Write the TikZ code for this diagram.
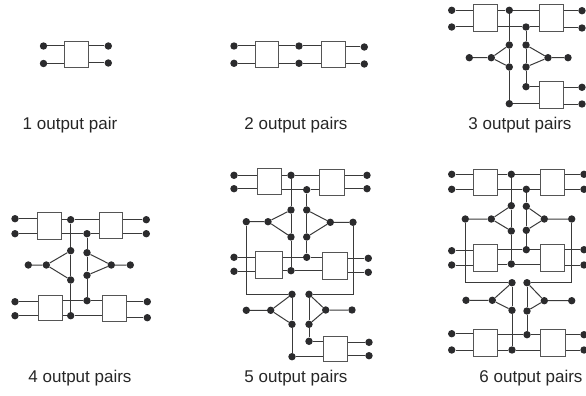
\documentclass[tikz,border=0pt]{standalone}
\usepackage{fontspec}
\setmainfont{Liberation Sans}
\definecolor{ink}{HTML}{2B2B2D}
\definecolor{wire}{HTML}{3A3A3A}
\definecolor{edge}{HTML}{555555}
\tikzset{
  dotn/.style={circle,fill=ink,draw=none,inner sep=0pt,minimum size=7.4pt},
  boxn/.style={rectangle,draw=edge,fill=white,line width=1pt,inner sep=0pt,anchor=north west},
  lab/.style={font=\fontsize{17}{19}\selectfont,text=black!85,inner sep=0pt},
  wr/.style={draw=wire,line width=1pt,line join=miter}
}
\newcommand{\D}[3]{\node[dotn] (#1) at (#2,#3) {};}
\newcommand{\BX}[5]{\node[boxn,minimum width=#4pt,minimum height=#5pt] (#1) at (#2,#3) {};}
\newcommand{\LK}[2]{\draw[wr] (#1) -- (#1 -| #2.west);}
\newcommand{\RK}[2]{\draw[wr] (#1) -- (#1 -| #2.east);}
\newcommand{\WW}[1]{\draw[wr] #1;}
\begin{document}
\begin{tikzpicture}[x=1pt,y=-1pt]
\useasboundingbox (0,0) rectangle (586,396);
% panel 1
\BX{a1}{64.3}{40.7}{23.7}{26.3}
\D{a2}{43.5}{46}\D{a3}{43.5}{63.5}\D{a4}{108.3}{46}\D{a5}{108.3}{63}
\LK{a2}{a1}\LK{a3}{a1}\RK{a4}{a1}\RK{a5}{a1}
% panel 2
\BX{b1}{254.7}{40.7}{23.5}{26.3}\BX{b2}{320.7}{40.7}{23.8}{26.3}
\D{b3}{234}{46}\D{b4}{234}{63.3}\D{b5}{299}{46}\D{b6}{299}{63.3}\D{b7}{364.3}{47}\D{b8}{364.3}{64}
\LK{b3}{b1}\LK{b4}{b1}\RK{b5}{b1}\RK{b6}{b1}\LK{b5}{b2}\LK{b6}{b2}\RK{b7}{b2}\RK{b8}{b2}
% panel 3
\BX{c1}{472.7}{4.3}{24}{27}\BX{c2}{538.7}{4.3}{24}{27}\BX{c3}{538.7}{81}{24}{26.7}
\D{c4}{451.7}{10.3}\D{c5}{451.7}{27}\D{c6}{509.3}{10.3}\D{c7}{526}{27}\D{c8}{582}{10.7}\D{c9}{582}{28}
\D{c10}{469.3}{57.7}\D{c11}{491.3}{57.7}\D{c12}{509.3}{45}\D{c13}{509.3}{67}
\D{c14}{526}{45}\D{c15}{526}{67}\D{c16}{548}{57.7}\D{c17}{568}{57.7}
\D{c18}{526}{86.7}\D{c19}{509.3}{103.7}\D{c20}{582}{87.3}\D{c21}{582}{104}
\LK{c4}{c1}\LK{c5}{c1}\RK{c6}{c1}\RK{c7}{c1}\LK{c6}{c2}\LK{c7}{c2}\RK{c8}{c2}\RK{c9}{c2}
\LK{c18}{c3}\LK{c19}{c3}\RK{c20}{c3}\RK{c21}{c3}
\WW{(c6)--(c12)--(c13)--(c19)}\WW{(c7)--(c14)--(c15)--(c18)}
\WW{(c10)--(c11)--(c12)}\WW{(c11)--(c13)}\WW{(c14)--(c16)--(c17)}\WW{(c15)--(c16)}
% panel 4
\BX{d1}{36.7}{212.3}{24}{26.4}\BX{d2}{99.3}{212.3}{22.7}{25.7}\BX{d3}{37.7}{295.3}{24}{24.4}\BX{d4}{102}{295.3}{23.7}{25.4}
\D{d5}{15}{218.7}\D{d6}{15}{233.7}\D{d7}{70.7}{219.7}\D{d8}{87}{233.7}\D{d9}{146.3}{219.7}\D{d10}{146.3}{233.7}
\D{d11}{28.3}{265}\D{d12}{46.3}{265}\D{d13}{70.7}{250.7}\D{d14}{70.7}{280}
\D{d15}{87}{252.7}\D{d16}{87}{275.3}\D{d17}{111.3}{265}\D{d18}{130.3}{265}
\D{d19}{15}{301.7}\D{d20}{15}{315.7}\D{d21}{87}{300.7}\D{d22}{70.7}{315.7}\D{d23}{147.3}{301.7}\D{d24}{147.3}{317.7}
\LK{d5}{d1}\LK{d6}{d1}\RK{d7}{d1}\RK{d8}{d1}\LK{d7}{d2}\LK{d8}{d2}\RK{d9}{d2}\RK{d10}{d2}
\LK{d19}{d3}\LK{d20}{d3}\RK{d21}{d3}\RK{d22}{d3}\LK{d21}{d4}\LK{d22}{d4}\RK{d23}{d4}\RK{d24}{d4}
\WW{(d7)--(d13)--(d14)--(d22)}\WW{(d8)--(d15)--(d16)--(d21)}
\WW{(d11)--(d12)--(d13)}\WW{(d12)--(d14)}\WW{(d15)--(d17)--(d18)}\WW{(d16)--(d17)}
% panel 5
\BX{e1}{256.7}{167.7}{24}{26.6}\BX{e2}{318.7}{168.7}{25}{26.3}\BX{e3}{254.7}{251.3}{27.6}{27}\BX{e4}{321.7}{252.3}{25}{27}\BX{e5}{322.7}{335.7}{24}{25.6}
\D{e6}{234}{175.3}\D{e7}{234}{188.7}\D{e8}{291}{175.3}\D{e9}{306.7}{189.7}\D{e10}{367}{175.3}\D{e11}{367}{188.7}
\D{e12}{246.3}{221.7}\D{e13}{268}{221.7}\D{e14}{291}{210}\D{e15}{291}{237}
\D{e16}{306.7}{210}\D{e17}{306.7}{237}\D{e18}{330.3}{222.3}\D{e19}{353}{222.3}
\D{e20}{234}{257.3}\D{e21}{234}{271.3}\D{e22}{306.7}{257.3}\D{e23}{291}{270.7}\D{e24}{368.3}{258.3}\D{e25}{368.3}{272.3}
\D{e26}{292}{294.3}\D{e27}{309}{294.3}
\D{e28}{246.3}{310.3}\D{e29}{270.7}{310.3}\D{e30}{292}{324.3}\D{e31}{309}{324.3}\D{e32}{325.7}{310}\D{e33}{352}{310}
\D{e34}{309}{341.3}\D{e35}{292}{356.7}\D{e36}{369}{342.3}\D{e37}{369}{355.7}
\LK{e6}{e1}\LK{e7}{e1}\RK{e8}{e1}\RK{e9}{e1}\LK{e8}{e2}\LK{e9}{e2}\RK{e10}{e2}\RK{e11}{e2}
\LK{e20}{e3}\LK{e21}{e3}\RK{e22}{e3}\RK{e23}{e3}\LK{e22}{e4}\LK{e23}{e4}\RK{e24}{e4}\RK{e25}{e4}
\LK{e34}{e5}\LK{e35}{e5}\RK{e36}{e5}\RK{e37}{e5}
\WW{(e8)--(e14)--(e15)--(e23)}\WW{(e9)--(e16)--(e17)--(e22)}
\WW{(e12)--(e13)--(e14)}\WW{(e13)--(e15)}\WW{(e16)--(e18)--(e19)}\WW{(e17)--(e18)}
\WW{(e12)--(e12|-e26)--(e26)}\WW{(e19)--(e19|-e27)--(e27)}
\WW{(e28)--(e29)--(e26)}\WW{(e29)--(e30)}\WW{(e26)--(e30)--(e35)}
\WW{(e27)--(e32)--(e33)}\WW{(e31)--(e32)}\WW{(e27)--(e31)--(e34)}
% panel 6
\BX{f1}{473.3}{168.7}{24}{26.6}\BX{f2}{539.7}{168.7}{24}{26.6}\BX{f3}{473.3}{244}{24}{26.7}\BX{f4}{539.7}{244}{24}{26.7}\BX{f5}{473.3}{329}{24}{26.7}\BX{f6}{540.3}{329}{24.4}{26.7}
\D{f7}{451.7}{174.3}\D{f8}{451.7}{189.3}\D{f9}{511.3}{174.3}\D{f10}{526.3}{189.3}\D{f11}{584}{174.3}\D{f12}{584}{189.3}
\D{f13}{465.3}{219}\D{f14}{491.3}{219}\D{f15}{511.3}{205.7}\D{f16}{511.3}{231}
\D{f17}{526.3}{206.3}\D{f18}{526.3}{230.3}\D{f19}{544.3}{219}\D{f20}{571.7}{219}
\D{f21}{451.7}{250.7}\D{f22}{451.7}{265}\D{f23}{526.3}{249.7}\D{f24}{511.3}{264}\D{f25}{584}{249.7}\D{f26}{584}{265}
\D{f27}{512}{282.7}\D{f28}{527}{282.7}
\D{f29}{466}{300.3}\D{f30}{492.3}{300.3}\D{f31}{512}{310.3}\D{f32}{527}{311}\D{f33}{544.3}{300.7}\D{f34}{571.7}{300.7}
\D{f35}{451.7}{333.7}\D{f36}{451.7}{350}\D{f37}{527}{334.7}\D{f38}{512}{350}\D{f39}{584}{334.7}\D{f40}{584}{350}
\LK{f7}{f1}\LK{f8}{f1}\RK{f9}{f1}\RK{f10}{f1}\LK{f9}{f2}\LK{f10}{f2}\RK{f11}{f2}\RK{f12}{f2}
\LK{f21}{f3}\LK{f22}{f3}\RK{f23}{f3}\RK{f24}{f3}\LK{f23}{f4}\LK{f24}{f4}\RK{f25}{f4}\RK{f26}{f4}
\LK{f35}{f5}\LK{f36}{f5}\RK{f37}{f5}\RK{f38}{f5}\LK{f37}{f6}\LK{f38}{f6}\RK{f39}{f6}\RK{f40}{f6}
\WW{(f9)--(f15)--(f16)--(f24)}\WW{(f10)--(f17)--(f18)--(f23)}
\WW{(f13)--(f14)--(f15)}\WW{(f14)--(f16)}\WW{(f17)--(f19)--(f20)}\WW{(f18)--(f19)}
\WW{(f13)--(f13|-f27)--(f27)}\WW{(f20)--(f20|-f28)--(f28)}
\WW{(f29)--(f30)--(f27)}\WW{(f30)--(f31)}\WW{(f27)--(f31)--(f38)}
\WW{(f28)--(f33)--(f34)}\WW{(f32)--(f33)}\WW{(f28)--(f32)--(f37)}
% labels
\node[lab] (t1) at (70,125) {1 output pair};
\node[lab] (t2) at (296,125) {2 output pairs};
\node[lab] (t3) at (520,125) {3 output pairs};
\node[lab] (t4) at (80,378) {4 output pairs};
\node[lab] (t5) at (296,378) {5 output pairs};
\node[lab] (t6) at (531,378) {6 output pairs};
\end{tikzpicture}
\end{document}
